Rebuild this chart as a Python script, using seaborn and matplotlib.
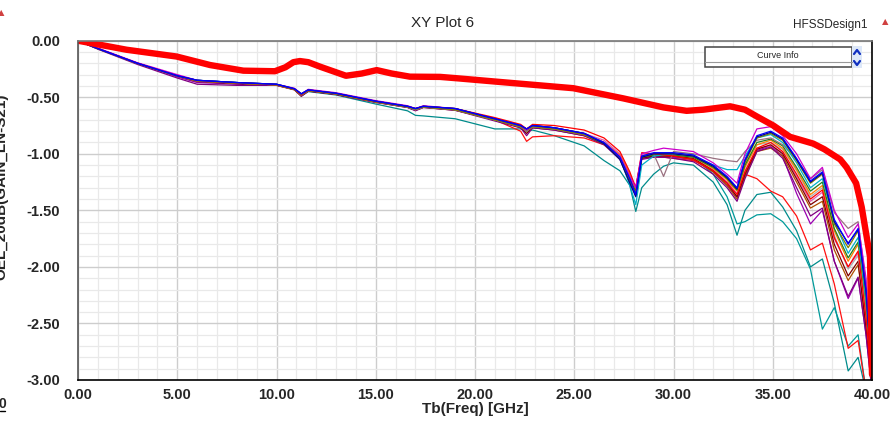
import matplotlib
matplotlib.use("Agg")
import matplotlib.pyplot as plt
from matplotlib.ticker import MultipleLocator, FormatStrFormatter
from matplotlib.patches import Rectangle
from matplotlib.lines import Line2D
import pandas as pd
import seaborn as sns

# ---- data -------------------------------------------------------------
# shared frequency grid (GHz) of the swept curves
freq = [0, 1, 3, 5, 6, 8, 10, 10.9, 11.25, 11.6,
        13, 15, 16.6, 17.0, 17.4, 19, 21, 22.3, 22.6, 22.9,
        24, 25.5, 26.5, 27.3, 27.8, 28.1, 28.4, 29, 29.5, 30,
        31, 32, 32.7, 33.2, 33.6, 34.2, 34.9, 35.5, 36.2, 36.9,
        37.5, 38.1, 38.8, 39.3, 39.7, 40]

blue = [0, -0.07, -0.20, -0.31, -0.35, -0.37, -0.385, -0.425, -0.47, -0.435,
        -0.465, -0.535, -0.58, -0.60, -0.58, -0.60, -0.69, -0.75, -0.78, -0.75,
        -0.77, -0.82, -0.90, -1.03, -1.22, -1.36, -1.02, -0.99, -0.99, -0.99,
        -1.01, -1.10, -1.20, -1.30, -1.05, -0.84, -0.80, -0.86, -1.04, -1.24,
        -1.16, -1.58, -1.80, -1.66, -2.20, -2.98]
olive = [0, -0.07, -0.20, -0.31, -0.355, -0.375, -0.39, -0.43, -0.475, -0.44,
         -0.47, -0.54, -0.585, -0.605, -0.585, -0.61, -0.70, -0.76, -0.79, -0.76,
         -0.78, -0.83, -0.91, -1.04, -1.25, -1.34, -1.03, -1.00, -1.00, -1.00,
         -1.02, -1.11, -1.21, -1.31, -1.08, -0.86, -0.82, -0.88, -1.06, -1.26,
         -1.18, -1.62, -1.83, -1.68, -2.25, -2.99]
magenta = [0, -0.065, -0.195, -0.30, -0.35, -0.37, -0.385, -0.42, -0.47, -0.43,
           -0.46, -0.53, -0.575, -0.60, -0.575, -0.60, -0.69, -0.75, -0.79, -0.75,
           -0.77, -0.82, -0.90, -1.02, -1.20, -1.30, -1.00, -0.97, -0.95, -0.96,
           -0.98, -1.08, -1.18, -1.26, -1.00, -0.78, -0.76, -0.84, -1.00, -1.22,
           -1.12, -1.50, -1.74, -1.62, -2.10, -2.95]
red = [0, -0.07, -0.20, -0.31, -0.355, -0.375, -0.39, -0.43, -0.48, -0.44,
       -0.47, -0.54, -0.58, -0.60, -0.58, -0.60, -0.68, -0.74, -0.78, -0.74,
       -0.75, -0.79, -0.86, -0.98, -1.16, -1.30, -0.99, -1.00, -1.01, -1.02,
       -1.05, -1.15, -1.26, -1.36, -1.16, -0.95, -0.90, -0.98, -1.18, -1.40,
       -1.32, -1.74, -2.00, -1.86, -2.45, -3.05]
orange = [0, -0.07, -0.20, -0.31, -0.355, -0.375, -0.39, -0.43, -0.48, -0.44,
          -0.47, -0.54, -0.585, -0.61, -0.585, -0.61, -0.70, -0.76, -0.80, -0.76,
          -0.78, -0.83, -0.90, -1.01, -1.18, -1.32, -1.02, -1.01, -1.01, -1.01,
          -1.03, -1.13, -1.23, -1.33, -1.12, -0.92, -0.88, -0.95, -1.14, -1.36,
          -1.28, -1.68, -1.95, -1.80, -2.35, -3.02]
darkred = [0, -0.07, -0.20, -0.31, -0.36, -0.38, -0.395, -0.435, -0.49, -0.445,
           -0.475, -0.545, -0.59, -0.615, -0.59, -0.615, -0.70, -0.77, -0.82, -0.77,
           -0.79, -0.84, -0.91, -1.03, -1.22, -1.35, -1.04, -1.02, -1.02, -1.02,
           -1.04, -1.15, -1.26, -1.38, -1.18, -0.96, -0.92, -1.00, -1.22, -1.45,
           -1.38, -1.80, -2.08, -1.95, -2.55, -3.05]
purple = [0, -0.075, -0.21, -0.33, -0.385, -0.395, -0.395, -0.43, -0.49, -0.445,
          -0.475, -0.545, -0.59, -0.62, -0.59, -0.615, -0.71, -0.77, -0.84, -0.77,
          -0.79, -0.84, -0.92, -1.05, -1.25, -1.37, -1.05, -1.03, -1.03, -1.04,
          -1.07, -1.18, -1.30, -1.42, -1.22, -0.98, -0.94, -1.04, -1.30, -1.55,
          -1.48, -1.95, -2.26, -2.09, -2.60, -3.10]
gray = [0, -0.07, -0.20, -0.31, -0.355, -0.375, -0.39, -0.43, -0.48, -0.44,
        -0.47, -0.54, -0.585, -0.61, -0.585, -0.61, -0.70, -0.76, -0.80, -0.76,
        -0.78, -0.83, -0.90, -1.02, -1.20, -1.30, -1.02, -1.00, -1.00, -1.00,
        -1.03, -1.12, -1.22, -1.30, -1.10, -0.92, -0.90, -0.96, -1.15, -1.38,
        -1.30, -1.72, -2.02, -1.90, -2.40, -3.00]
cyan = [0, -0.07, -0.20, -0.31, -0.35, -0.37, -0.385, -0.425, -0.47, -0.435,
        -0.465, -0.535, -0.58, -0.605, -0.58, -0.60, -0.69, -0.75, -0.79, -0.75,
        -0.77, -0.82, -0.90, -1.03, -1.28, -1.45, -1.10, -1.02, -1.01, -1.00,
        -1.02, -1.10, -1.14, -1.14, -1.02, -0.86, -0.83, -0.90, -1.08, -1.30,
        -1.22, -1.60, -1.88, -1.74, -2.30, -3.00]
mauve = [0, -0.07, -0.20, -0.31, -0.355, -0.375, -0.39, -0.43, -0.48, -0.44,
         -0.47, -0.54, -0.585, -0.61, -0.585, -0.61, -0.70, -0.76, -0.80, -0.76,
         -0.78, -0.83, -0.90, -1.02, -1.20, -1.30, -1.02, -1.00, -1.20, -0.98,
         -1.00, -1.04, -1.06, -1.07, -0.98, -0.88, -0.86, -0.92, -1.05, -1.22,
         -1.14, -1.52, -1.66, -1.60, -2.15, -2.95]
green = [0, -0.07, -0.20, -0.31, -0.355, -0.375, -0.39, -0.43, -0.48, -0.44,
         -0.47, -0.54, -0.585, -0.61, -0.585, -0.61, -0.70, -0.76, -0.80, -0.76,
         -0.78, -0.83, -0.91, -1.04, -1.24, -1.33, -1.03, -1.01, -1.01, -1.01,
         -1.03, -1.12, -1.22, -1.32, -1.10, -0.90, -0.87, -0.93, -1.12, -1.33,
         -1.25, -1.66, -1.92, -1.78, -2.30, -3.00]
navy = [0, -0.07, -0.20, -0.31, -0.35, -0.37, -0.385, -0.425, -0.47, -0.435,
        -0.465, -0.535, -0.58, -0.60, -0.58, -0.60, -0.69, -0.75, -0.78, -0.75,
        -0.77, -0.82, -0.91, -1.05, -1.26, -1.38, -1.03, -1.00, -1.00, -1.00,
        -1.02, -1.11, -1.21, -1.31, -1.06, -0.85, -0.81, -0.87, -1.05, -1.25,
        -1.17, -1.60, -1.79, -1.67, -2.22, -2.98]
pink = [0, -0.07, -0.20, -0.31, -0.355, -0.375, -0.39, -0.43, -0.48, -0.44,
        -0.47, -0.54, -0.585, -0.61, -0.585, -0.61, -0.70, -0.76, -0.80, -0.76,
        -0.78, -0.82, -0.88, -1.00, -1.18, -1.30, -1.01, -1.00, -1.00, -1.01,
        -1.04, -1.14, -1.25, -1.35, -1.15, -0.95, -0.93, -0.99, -1.20, -1.42,
        -1.34, -1.75, -2.00, -1.88, -2.45, -3.05]
brown = [0, -0.07, -0.20, -0.31, -0.355, -0.375, -0.39, -0.43, -0.48, -0.44,
         -0.47, -0.54, -0.585, -0.61, -0.585, -0.61, -0.70, -0.76, -0.80, -0.76,
         -0.78, -0.83, -0.90, -1.02, -1.20, -1.32, -1.03, -1.02, -1.02, -1.02,
         -1.05, -1.16, -1.28, -1.40, -1.20, -0.98, -0.95, -1.02, -1.25, -1.48,
         -1.42, -1.85, -2.12, -1.98, -2.50, -3.05]
teal_a = [0, -0.07, -0.20, -0.31, -0.35, -0.37, -0.39, -0.43, -0.49, -0.45,
          -0.48, -0.56, -0.62, -0.66, -0.665, -0.69, -0.78, -0.78, -0.80, -0.79,
          -0.84, -0.93, -1.06, -1.15, -1.28, -1.51, -1.30, -1.18, -1.11, -1.08,
          -1.10, -1.25, -1.45, -1.72, -1.50, -1.36, -1.34, -1.47, -1.68, -2.00,
          -1.93, -2.32, -2.92, -2.80, -3.10, -3.20]
teal_b = [0, -0.07, -0.20, -0.31, -0.35, -0.37, -0.385, -0.425, -0.47, -0.435,
          -0.465, -0.535, -0.58, -0.60, -0.58, -0.60, -0.69, -0.75, -0.79, -0.75,
          -0.77, -0.82, -0.91, -1.04, -1.22, -1.35, -1.03, -1.00, -1.00, -1.00,
          -1.03, -1.18, -1.38, -1.62, -1.60, -1.54, -1.53, -1.60, -1.75, -2.02,
          -2.55, -2.36, -2.70, -2.60, -3.10, -3.20]
red_low = [0, -0.07, -0.20, -0.31, -0.355, -0.375, -0.39, -0.43, -0.48, -0.44,
           -0.47, -0.54, -0.585, -0.61, -0.585, -0.61, -0.70, -0.80, -0.89, -0.85,
           -0.84, -0.86, -0.92, -1.03, -1.22, -1.32, -1.03, -1.02, -1.03, -1.04,
           -1.06, -1.15, -1.25, -1.32, -1.18, -1.22, -1.33, -1.38, -1.55, -1.85,
           -1.79, -2.15, -2.72, -2.65, -3.10, -3.20]
violet = [0, -0.07, -0.20, -0.32, -0.37, -0.385, -0.39, -0.43, -0.48, -0.44,
          -0.47, -0.54, -0.585, -0.61, -0.585, -0.61, -0.70, -0.76, -0.80, -0.76,
          -0.78, -0.83, -0.91, -1.04, -1.24, -1.36, -1.04, -1.03, -1.03, -1.03,
          -1.05, -1.16, -1.28, -1.38, -1.20, -0.97, -0.93, -1.02, -1.35, -1.62,
          -1.50, -1.95, -2.28, -2.10, -2.60, -3.10]

# highlighted (thick) reference curve
ref_freq = [0, 2.45, 4.97, 6.65, 8.33, 9.92, 10.45, 10.85, 11.18, 11.6,
            12.2, 13.5, 14.3, 15.05, 15.8, 16.72, 18.24, 19.15, 21.6, 24.95,
            27.47, 29.5, 30.66, 31.5, 32.85, 33.6, 34.2, 35.03, 35.87, 37.04,
            37.6, 38.4, 38.72, 39.2, 39.48, 39.9, 40]
ref_db = [0, -0.08, -0.14, -0.215, -0.265, -0.27, -0.235, -0.19, -0.18, -0.19,
          -0.23, -0.31, -0.29, -0.26, -0.29, -0.318, -0.32, -0.333, -0.37, -0.42,
          -0.51, -0.59, -0.62, -0.61, -0.58, -0.61, -0.67, -0.75, -0.85, -0.91,
          -0.96, -1.05, -1.12, -1.26, -1.47, -1.91, -2.95]

curves = {
    "teal_a": (teal_a, "#008b8b"), "teal_b": (teal_b, "#009a9a"),
    "red_low": (red_low, "#ff1010"), "violet": (violet, "#9a00b0"),
    "brown": (brown, "#b05000"), "pink": (pink, "#e060b0"),
    "darkred": (darkred, "#800000"), "purple": (purple, "#800080"),
    "gray": (gray, "#b0b0b0"), "orange": (orange, "#ff8000"),
    "green": (green, "#208020"), "mauve": (mauve, "#997080"),
    "cyan": (cyan, "#00b0c8"), "red": (red, "#ff0000"),
    "olive": (olive, "#808000"), "magenta": (magenta, "#cc00cc"),
    "navy": (navy, "#000090"), "blue": (blue, "#0000ff"),
}

rows = []
for name, (vals, _) in curves.items():
    for f, v in zip(freq, vals):
        rows.append({"freq": f, "db": v, "curve": name})
df = pd.DataFrame(rows)
palette = {name: c for name, (_, c) in curves.items()}

# ---- figure -----------------------------------------------------------
sns.set_style("white")
plt.rcParams["font.family"] = ["Liberation Sans", "DejaVu Sans"]

W, H = 891, 421
fig = plt.figure(figsize=(W / 100, H / 100), dpi=100)
ax = fig.add_axes([78 / W, 1 - 380 / H, (872 - 78) / W, (380 - 40.7) / H])

sns.lineplot(data=df, x="freq", y="db", hue="curve", palette=palette,
             hue_order=list(curves.keys()), linewidth=0.9, legend=False,
             sort=False, estimator=None, ax=ax)
sns.lineplot(x=ref_freq, y=ref_db, color="#ff0000", linewidth=4.6,
             sort=False, estimator=None, ax=ax)

ax.set_xlim(0, 40)
ax.set_ylim(-3, 0)
ax.xaxis.set_major_locator(MultipleLocator(5))
ax.xaxis.set_minor_locator(MultipleLocator(1))
ax.yaxis.set_major_locator(MultipleLocator(0.5))
ax.yaxis.set_minor_locator(MultipleLocator(0.1))
ax.xaxis.set_major_formatter(FormatStrFormatter("%.2f"))
ax.yaxis.set_major_formatter(FormatStrFormatter("%.2f"))

ax.set_axisbelow(True)
ax.grid(which="major", color="#cdcdcd", linewidth=1.0)
ax.grid(which="minor", color="#e9e9e9", linewidth=0.9)

ax.tick_params(axis="y", which="major", direction="out", length=10, width=1,
               color="#444444", pad=3, labelsize=10.5)
ax.tick_params(axis="y", which="minor", direction="out", length=5, width=1,
               color="#444444")
ax.tick_params(axis="x", which="major", direction="out", length=4, width=1,
               color="#222222", pad=2, labelsize=10.5)
ax.tick_params(axis="x", which="minor", direction="out", length=2.5, width=1,
               color="#222222")
for lbl in ax.get_xticklabels() + ax.get_yticklabels():
    lbl.set_fontweight("bold")

for side, col in [("left", "#555555"), ("top", "#777777"),
                  ("right", "#000000"), ("bottom", "#000000")]:
    ax.spines[side].set_visible(True)
    ax.spines[side].set_color(col)
    ax.spines[side].set_linewidth(1.2)

ax.set_xlabel("Tb(Freq) [GHz]", fontsize=11, fontweight="bold", labelpad=0)
ax.set_ylabel("")

# header texts
fig.text(443 / W, 1 - 23 / H, "XY Plot 6", ha="center", va="center",
         fontsize=11)
fig.text(830 / W, 1 - 25 / H, "HFSSDesign1", ha="center", va="center",
         fontsize=8.5)
fig.text(885 / W, 1 - 22 / H, "\u25B2", ha="center", va="center",
         fontsize=6, color="#d04040", family="DejaVu Sans")
fig.text(1 / W, 1 - 13 / H, "\u25B2", ha="center", va="center",
         fontsize=6, color="#d04040", family="DejaVu Sans")

# y axis title sits at the very left edge
fig.text(1.5 / W, 1 - 187 / H, "OEL_20dB(GAIN_LN-S21)", rotation=90,
         ha="center", va="center", fontsize=11, fontweight="bold")
fig.text(2 / W, 1 - 404 / H, "0", ha="center", va="center",
         fontsize=10, fontweight="bold")
fig.add_artist(Line2D([0, 5 / W], [1 - 411 / H, 1 - 411 / H],
                      color="black", linewidth=1))

# curve info box with its scroll arrows
fig.add_artist(Rectangle((705 / W, 1 - 67 / H), 147 / W, 20 / H,
                         facecolor="white", edgecolor="#444444",
                         linewidth=1.1, transform=fig.transFigure))
fig.add_artist(Line2D([705 / W, 852 / W], [1 - 62 / H, 1 - 62 / H],
                      color="#999999", linewidth=0.8))
fig.text(778 / W, 1 - 55 / H, "Curve Info", ha="center", va="center",
         fontsize=6.5)
fig.add_artist(Rectangle((852 / W, 1 - 68 / H), 10 / W, 22 / H,
                         facecolor="#dde8f8", edgecolor="none",
                         transform=fig.transFigure))
fig.add_artist(Line2D([854 / W, 857 / W, 860 / W],
                      [1 - 54 / H, 1 - 50 / H, 1 - 54 / H],
                      color="#1030c0", linewidth=1.6))
fig.add_artist(Line2D([854 / W, 857 / W, 860 / W],
                      [1 - 61 / H, 1 - 65 / H, 1 - 61 / H],
                      color="#1030c0", linewidth=1.6))

fig.savefig("out.png", dpi=100)
